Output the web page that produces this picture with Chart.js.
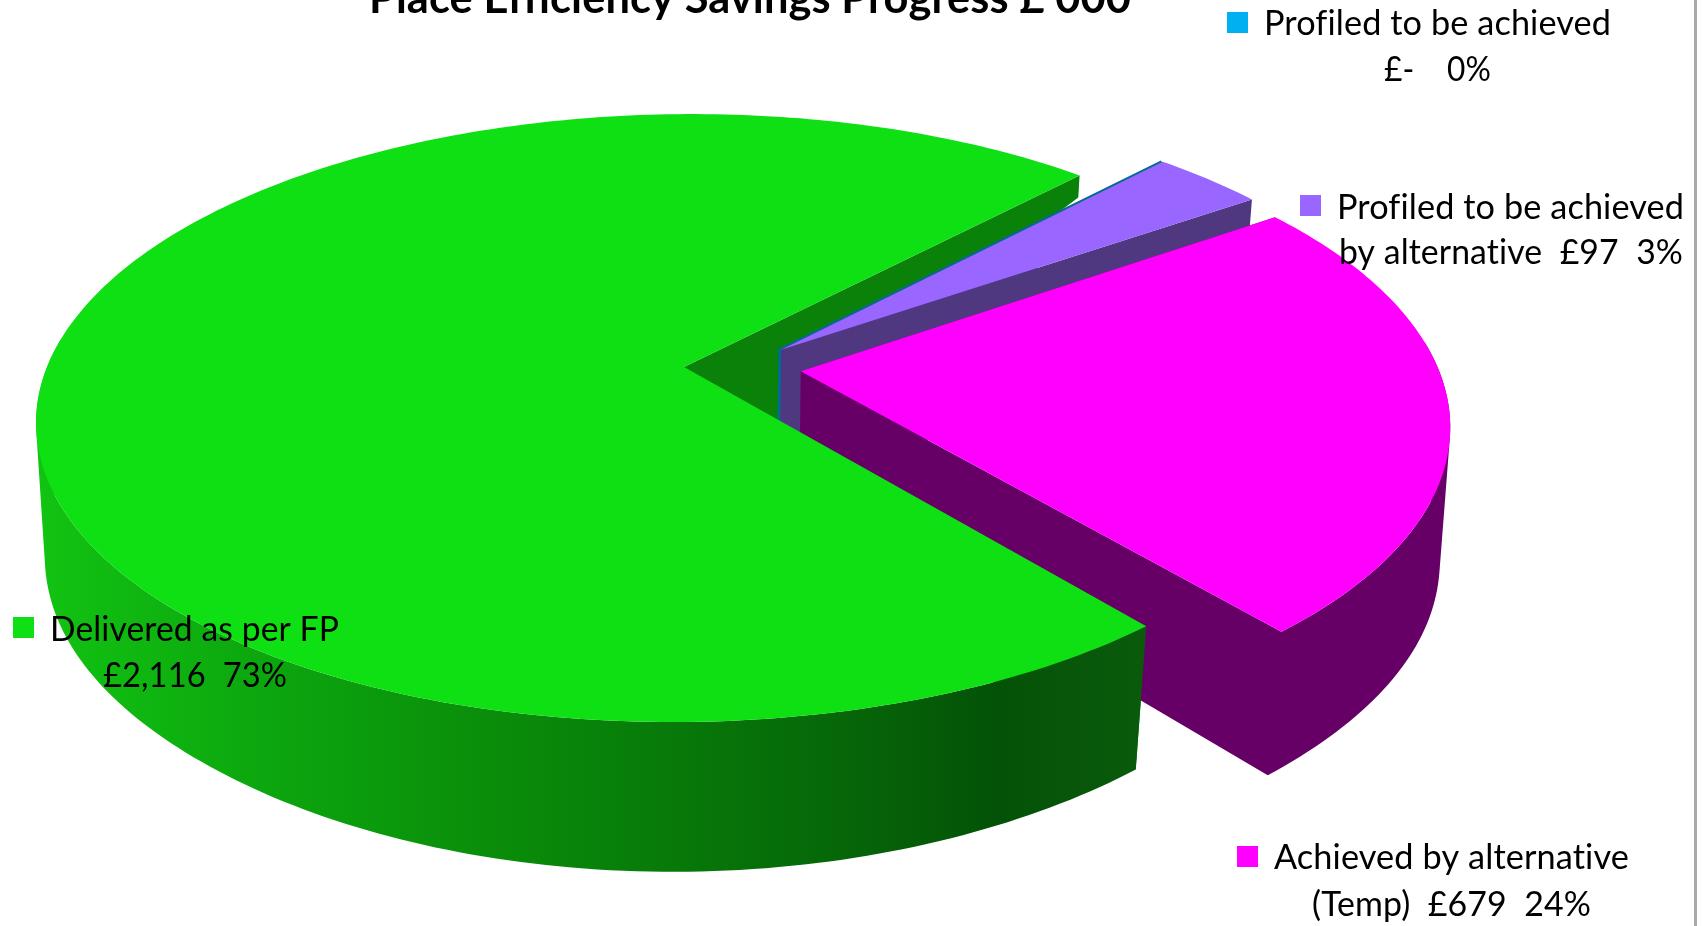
<!DOCTYPE html>
<html>
<head>
<meta charset="utf-8">
<title>Place Efficiency Savings Progress</title>
<script src="https://cdnjs.cloudflare.com/ajax/libs/Chart.js/4.4.1/chart.umd.min.js"></script>
<style>
    html, body { margin: 0; padding: 0; background: #fff; overflow: hidden; }
    canvas { display: block; }
    #rule { position: absolute; left: 1694px; top: 0; width: 3px; height: 926px; background: #a9a9a9; }
</style>
</head>
<body>
<canvas id="savingsChart" width="1703" height="926"></canvas>
<div id="rule"></div>
<script>
const chartTitle = 'Place Efficiency Savings Progress £ 000';
const categories = ['Delivered as per FP', 'Profiled to be achieved', 'Profiled to be achieved by alternative', 'Achieved by alternative (Temp)'];
const savings = [2116, 0, 97, 679];
const topColors = ['#0EE014', '#00B0F0', '#9966FF', '#FF00FF'];
const sideColors = ['#0A820A', '#006B96', '#4F3880', '#660066'];

// text lines of each slice label, in the same order as the categories
const labelLines = [
    ['Delivered as per FP', '£2,116  73%'],
    ['Profiled to be achieved', '£-    0%'],
    ['Profiled to be achieved', 'by alternative  £97  3%'],
    ['Achieved by alternative', '(Temp)  £679  24%']
];

// pie plane: centre, radii, perspective and lean of the top and bottom faces
const view = { cx: 684, cy: 367, rx: 637, ry: 295.4, p: 0.168, shear: 0.033, baseY: 461, baseRy: 380, baseP: 0.075, bulge: 60, taper: 0.00016 };

// slice shift inside the pie plane, as a fraction of the radius
const explode = [[0, 0], [0.151, 0.059], [0.153, 0.059], [0.183, -0.014]];

// label placement: key square x, y, then [x, baseline, width] for each line
const labelBoxes = [
    { key: [13, 617], lines: [[50, 641, 289], [103, 687, 184]] },
    { key: [1227, 12], lines: [[1264, 35, 347], [1384, 81, 107]] },
    { key: [1300, 195], lines: [[1337, 219, 347], [1339, 264, 344]] },
    { key: [1237, 846], lines: [[1274, 869, 355], [1312, 916, 279]] }
];

function topPoint(u, v) {
    const w = 1 + view.p * v;
    const y = view.cy - view.ry * v / w;
    return { x: view.cx + view.rx * u / w - view.shear * (y - view.cy), y: y };
}

// the bottom face is steeper than the top one, walls are tallest at the front
function basePoint(u, v) {
    const t = topPoint(u, v);
    let y = view.baseY - view.baseRy * v / (1 + view.baseP * v);
    y -= view.bulge * (v + 1) * (v + 0.773) * (v - 0.72);
    y = Math.max(y, t.y);
    // walls lean in mostly toward the front of the pie
    const lean = 0.6 + 0.4 * Math.min(1, v * v / 0.6);
    return { x: view.cx + (t.x - view.cx) * (1 - view.taper * lean * (y - t.y)), y: y };
}

// outer edge of a slice in plane coordinates, sampled along its arc
function sliceEdge(arc, shift) {
    const pts = [];
    const sweep = arc.endAngle - arc.startAngle;
    const steps = Math.max(1, Math.ceil(sweep / (Math.PI / 180)));
    for (let i = 0; i <= steps; i++) {
        const a = arc.startAngle + sweep * i / steps;
        pts.push([shift[0] + Math.cos(a), shift[1] - Math.sin(a)]);
    }
    return pts;
}

// every polygon is wound the same way, overlaps in one path then stay filled
function tracePoly(ctx, pts) {
    let area = 0;
    pts.forEach((p, i) => {
        const q = pts[(i + 1) % pts.length];
        area += p.x * q.y - q.x * p.y;
    });
    const ordered = area < 0 ? pts.slice().reverse() : pts;
    ordered.forEach((p, i) => i ? ctx.lineTo(p.x, p.y) : ctx.moveTo(p.x, p.y));
    ctx.closePath();
}

function fillPoly(ctx, pts, fill) {
    ctx.beginPath();
    tracePoly(ctx, pts);
    ctx.fillStyle = fill;
    ctx.fill();
}

// both radial faces and the rim go into one path so no seams show between them
function drawBody(ctx, edge, shift, color) {
    ctx.beginPath();
    [edge[0], edge[edge.length - 1]].forEach(e => {
        tracePoly(ctx, [topPoint(shift[0], shift[1]), topPoint(e[0], e[1]), basePoint(e[0], e[1]), basePoint(shift[0], shift[1])]);
    });
    traceRim(ctx, edge);
    ctx.fillStyle = color;
    ctx.fill();
}

// wall strip by strip; the back of the rim is hidden, so only the front is traced
function traceRim(ctx, edge) {
    for (let i = 0; i < edge.length - 1; i++) {
        const a = edge[i];
        const b = edge[i + 1];
        if (a[1] > 0.1 || b[1] > 0.1) continue;
        tracePoly(ctx, [topPoint(a[0], a[1]), topPoint(b[0], b[1]), basePoint(b[0], b[1]), basePoint(a[0], a[1])]);
    }
}

function drawTop(ctx, edge, shift, color) {
    fillPoly(ctx, [topPoint(shift[0], shift[1])].concat(edge.map(e => topPoint(e[0], e[1]))), color);
}

// shaded wall of the big slice, darkening toward the front right
function greenWallFill(ctx) {
    const g = ctx.createLinearGradient(40, 0, 1140, 0);
    g.addColorStop(0, '#12c312');
    g.addColorStop(0.19, '#0ca80e');
    g.addColorStop(0.42, '#0a8c0a');
    g.addColorStop(0.57, '#077a09');
    g.addColorStop(0.74, '#066508');
    g.addColorStop(0.87, '#045207');
    g.addColorStop(1, '#0a5a0c');
    return g;
}

const pie3d = {
    id: 'pie3d',
    beforeDatasetsDraw(chart) {
        const ctx = chart.ctx;
        const arcs = chart.getDatasetMeta(0).data.map(el => el.getProps(['startAngle', 'endAngle']));
        const edges = arcs.map((arc, i) => sliceEdge(arc, explode[i]));
        ctx.save();

        // inner faces of the big slice sit behind everything else
        const first = edges[0][0];
        const last = edges[0][edges[0].length - 1];
        [first, last].forEach(e => {
            fillPoly(ctx, [topPoint(0, 0), topPoint(e[0], e[1]), basePoint(e[0], e[1]), basePoint(0, 0)], sideColors[0]);
        });

        // the empty slice only shows as a thin edge
        const blue = explode[1];
        const tip = edges[1][0];
        const from = topPoint(tip[0], tip[1]);
        const apex = topPoint(blue[0], blue[1]);
        const foot = basePoint(blue[0], blue[1]);
        ctx.beginPath();
        ctx.moveTo(from.x, from.y);
        ctx.lineTo(apex.x, apex.y);
        ctx.lineTo(foot.x, foot.y);
        ctx.strokeStyle = sideColors[1];
        ctx.lineWidth = 3;
        ctx.stroke();

        [2, 3].forEach(i => {
            drawBody(ctx, edges[i], explode[i], sideColors[i]);
            drawTop(ctx, edges[i], explode[i], topColors[i]);
        });

        ctx.beginPath();
        traceRim(ctx, edges[0]);
        ctx.fillStyle = greenWallFill(ctx);
        ctx.fill();
        drawTop(ctx, edges[0], explode[0], topColors[0]);
        ctx.restore();
        return false;
    },
    afterDraw(chart) {
        const ctx = chart.ctx;
        ctx.save();
        ctx.fillStyle = '#000';
        ctx.textAlign = 'left';
        ctx.textBaseline = 'alphabetic';
        ctx.letterSpacing = '0.1px';

        ctx.font = 'bold 44px Lato';
        ctx.fillText(chartTitle, 369, 13, 762);

        ctx.font = '35px Lato';
        labelBoxes.forEach((box, i) => {
            ctx.fillStyle = topColors[i];
            ctx.fillRect(box.key[0], box.key[1], 21, 21);
            ctx.fillStyle = '#000';
            box.lines.forEach((line, j) => {
                ctx.fillText(labelLines[i][j], line[0], line[1], line[2]);
            });
        });
        ctx.restore();
    }
};

new Chart(document.getElementById('savingsChart').getContext('2d'), {
    type: 'pie',
    data: {
        labels: categories,
        datasets: [{
            data: savings,
            backgroundColor: topColors,
            borderWidth: 0
        }]
    },
    options: {
        responsive: false,
        animation: false,
        rotation: 139.9,
        plugins: {
            legend: { display: false },
            tooltip: { enabled: false }
        }
    },
    plugins: [pie3d]
});
</script>
</body>
</html>
